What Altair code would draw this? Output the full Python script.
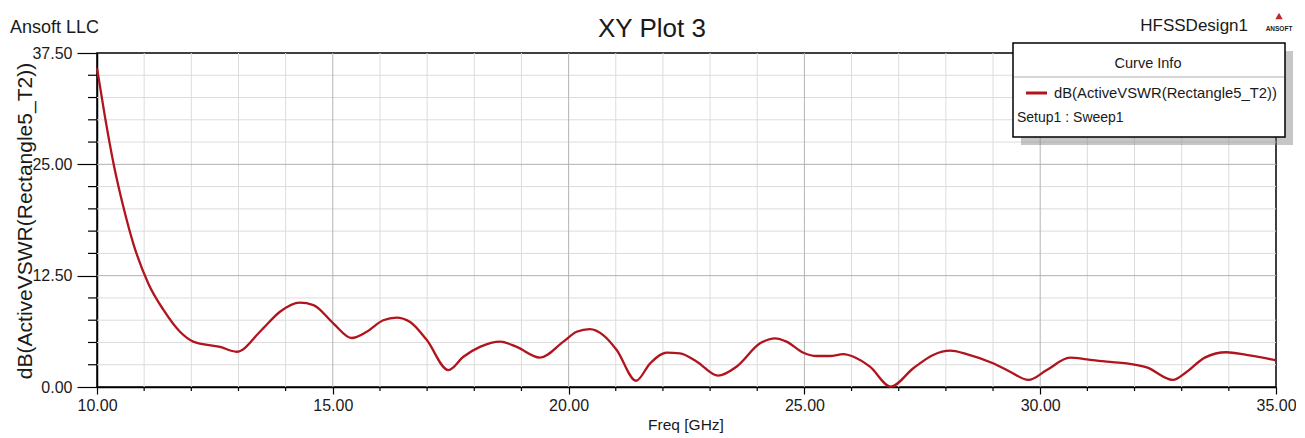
import altair as alt
import pandas as pd

# ---- data ----
freq_ghz = [10.0, 10.17, 10.35, 10.56, 10.77, 11.09, 11.41, 11.76, 12.04, 12.61, 12.96,
            13.49, 13.88, 14.3, 14.59, 15.01, 15.4, 15.72, 16.07, 16.35, 16.64, 16.99,
            17.45, 17.77, 18.12, 18.55, 18.9, 19.39, 19.89, 20.17, 20.45, 20.74, 21.02,
            21.43, 21.73, 22.08, 22.36, 22.72, 23.17, 23.56, 24.06, 24.38, 24.62, 24.98,
            25.26, 25.54, 25.83, 26.04, 26.39, 26.83, 27.31, 27.73, 28.09, 28.44, 29.0,
            29.36, 29.75, 30.14, 30.63, 30.99, 31.41, 31.83, 32.26, 32.81, 33.11, 33.49,
            33.95, 34.37, 35.0]
db_vswr = [35.8, 30.3, 25.1, 20.2, 16.1, 11.6, 8.65, 6.2, 5.1, 4.5, 3.96,
           6.4, 8.45, 9.47, 9.2, 7.15, 5.5, 6.2, 7.5, 7.8, 7.3, 5.3,
           1.9, 3.4, 4.5, 5.1, 4.5, 3.3, 5.1, 6.2, 6.5, 5.8, 4.15,
           0.7, 2.66, 3.85, 3.78, 2.84, 1.27, 2.28, 4.9, 5.47, 5.1, 3.85,
           3.48, 3.48, 3.7, 3.4, 2.28, 0.05, 2.1, 3.6, 4.08, 3.7, 2.66,
           1.72, 0.79, 1.9, 3.3, 3.1, 2.84, 2.66, 2.2, 0.79, 1.72, 3.3,
           3.9, 3.6, 3.0]

x_major = [10, 15, 20, 25, 30, 35]
x_minor = [11, 12, 13, 14, 16, 17, 18, 19, 21, 22, 23, 24, 26, 27, 28, 29, 31, 32, 33, 34]
y_major = [0.0, 12.5, 25.0, 37.5]
y_minor = [2.5, 5.0, 7.5, 10.0, 15.0, 17.5, 20.0, 22.5, 27.5, 30.0, 32.5, 35.0]

title_text = "XY Plot 3"
company = "Ansoft LLC"
design = "HFSSDesign1"
x_title = "Freq [GHz]"
y_title = "dB(ActiveVSWR(Rectangle5_T2))"
legend_head = "Curve Info"
legend_curve = "dB(ActiveVSWR(Rectangle5_T2))"
legend_setup = "Setup1 : Sweep1"

W, H = 1179, 334
FONT = "Liberation Sans, Arial, sans-serif"
RED = "#b0141d"
TXT = "#1a1a1a"

curve = pd.DataFrame({"f": freq_ghz, "db": db_vswr})
one = pd.DataFrame({"a": [0]})

xs = alt.Scale(domain=[10, 35], nice=False, zero=False)
ys = alt.Scale(domain=[0, 37.5], nice=False, zero=False)

xaxis = alt.Axis(
    values=x_major, format=".2f", title=None, grid=False,
    tickSize=7, tickColor="black", tickWidth=1.2,
    domainColor="black", domainWidth=1.5,
    labelFont=FONT, labelFontSize=16, labelColor=TXT, labelPadding=3,
    labelFlush=False)
yaxis = alt.Axis(
    values=y_major, format=".2f", title=None, grid=False,
    tickSize=20, tickColor="black", tickWidth=1.2,
    domainColor="black", domainWidth=1.5,
    labelFont=FONT, labelFontSize=16, labelColor=TXT, labelPadding=5,
    labelFlush=False, labelBaseline="middle")

def X(field):
    return alt.X(field, scale=xs, axis=xaxis)

def Y(field):
    return alt.Y(field, scale=ys, axis=yaxis)

line = alt.Chart(curve).mark_line(color=RED, strokeWidth=2.3, interpolate="monotone").encode(
    x=X("f:Q"), y=Y("db:Q"))

grid_vx_minor = alt.Chart(pd.DataFrame({"f": x_minor})).mark_rule(
    color="#dcdcdc", strokeWidth=1).encode(x=X("f:Q"))
grid_vx_major = alt.Chart(pd.DataFrame({"f": x_major[1:-1]})).mark_rule(
    color="#b4b4b4", strokeWidth=1).encode(x=X("f:Q"))
grid_hy_minor = alt.Chart(pd.DataFrame({"db": y_minor})).mark_rule(
    color="#dcdcdc", strokeWidth=1).encode(y=Y("db:Q"))
grid_hy_major = alt.Chart(pd.DataFrame({"db": y_major[1:-1]})).mark_rule(
    color="#b0b0b0", strokeWidth=1).encode(y=Y("db:Q"))

tick_y_minor = alt.Chart(pd.DataFrame({"db": y_minor})).mark_rule(
    color="black", strokeWidth=1.2).encode(
    y=Y("db:Q"), x=alt.value(-9), x2=alt.value(0))
tick_x_minor = alt.Chart(pd.DataFrame({"f": x_minor})).mark_rule(
    color="black", strokeWidth=1.2).encode(
    x=X("f:Q"), y=alt.value(H), y2=alt.value(H + 4))

def txt(s, x, y, size, align="left", baseline="alphabetic", angle=0,
        color=TXT, weight="normal"):
    kw = dict(text=s, font=FONT, fontSize=size, align=align, baseline=baseline,
              color=color, fontWeight=weight)
    if angle:
        kw["angle"] = angle
    return alt.Chart(one).mark_text(**kw).encode(x=alt.value(x), y=alt.value(y))

def box(x1, x2, y1, y2, **kw):
    return alt.Chart(one).mark_rect(**kw).encode(
        x=alt.value(x1), x2=alt.value(x2), y=alt.value(y1), y2=alt.value(y2))

shadow = box(924, 1196, -2, 92, color="#808080", opacity=0.45)
lbox = box(916, 1188, -10, 84, fill="white", stroke="black", strokeWidth=1.5)
sep = alt.Chart(one).mark_rule(color="#c8c8c8", strokeWidth=1.5).encode(
    x=alt.value(917), x2=alt.value(1187), y=alt.value(24))
sample = alt.Chart(one).mark_rule(color=RED, strokeWidth=3).encode(
    x=alt.value(929), x2=alt.value(950), y=alt.value(40))
logo = alt.Chart(one).mark_point(shape="triangle-up", filled=True, color="#c0282d",
                                 size=55, opacity=1).encode(x=alt.value(1182), y=alt.value(-37))

layers = [
    grid_vx_minor, grid_hy_minor, grid_vx_major, grid_hy_major,
    tick_y_minor, tick_x_minor, line,
    txt(company, -87, -20, 18),
    txt(title_text, 555, -16, 26, align="center"),
    txt(design, 1151, -22, 17, align="right"),
    logo,
    txt("ANSOFT", 1182, -22, 6.5, align="center", weight="bold"),
    txt(y_title, -71, 168, 21, align="center", baseline="middle", angle=270),
    txt(x_title, 589, 377, 15.5, align="center"),
    shadow, lbox, sep, sample,
    txt(legend_head, 1051, 15, 14.5, align="center"),
    txt(legend_curve, 957, 45, 14.8),
    txt(legend_setup, 920, 69, 14),
]

chart = alt.layer(*layers).properties(
    width=W, height=H,
    autosize=alt.AutoSizeParams(type="none"),
    padding={"left": 89, "top": 45, "right": 20, "bottom": 48},
).configure_view(stroke="black", strokeWidth=1.5)

chart.save("out.html", embed_options={"renderer": "svg", "actions": False})
